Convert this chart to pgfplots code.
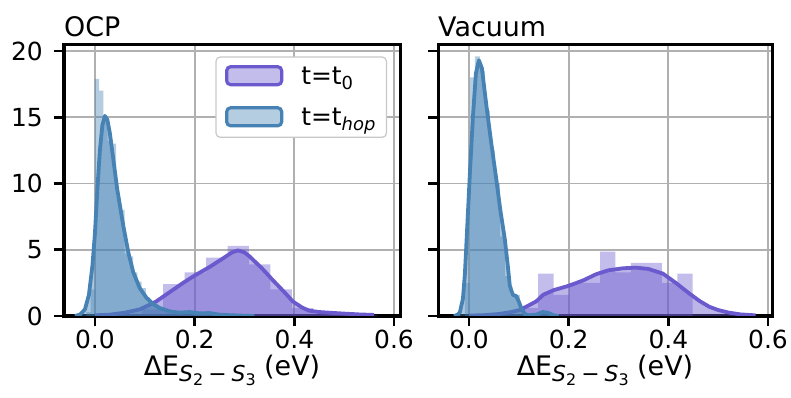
\documentclass[border=0pt]{standalone}
\usepackage{fontspec}
\setmainfont{DejaVu Sans}
\usepackage{pgfplots}
\pgfplotsset{compat=1.18}
\definecolor{sblue}{RGB}{70,130,180}
\definecolor{spurple}{RGB}{106,90,205}
\definecolor{gridc}{RGB}{176,176,176}
\newcommand{\dElabel}{ΔE\raisebox{-6.5bp}{\fontsize{22}{22}\selectfont\textit{S}\raisebox{-3.5bp}{\fontsize{16}{16}\selectfont 2}\hspace{5bp}−\hspace{5bp}\textit{S}\raisebox{-3.5bp}{\fontsize{16}{16}\selectfont 3}} (eV)}
\pgfplotsset{
  hist/.style={const plot, fill=#1, fill opacity=0.4, draw=none, forget plot},
  kdef/.style={fill=#1, fill opacity=0.45, draw=none, forget plot},
  kdel/.style={draw=#1, line width=3.8bp, line join=round, forget plot},
  myax/.style={
    scale only axis, width=336bp, height=271bp,
    xmin=-0.062, xmax=0.612, ymin=0, ymax=20.45,
    xtick={0,0.2,0.4,0.6}, ytick={0,5,10,15,20},
    xticklabels={0.0,0.2,0.4,0.6},
    xtick pos=lower, ytick pos=left,
    grid=major, major grid style={draw=gridc, line width=1.8bp},
    axis line style={line width=3bp, draw=black},
    tick align=outside, major tick length=10bp,
    major tick style={draw=black, line width=2.6bp},
    tick label style={font=\fontsize{25}{29}\selectfont, inner sep=0pt},
    /pgf/number format/assume math mode=true,
    xticklabel style={anchor=base, yshift=-22bp},
    yticklabel style={anchor=east, xshift=-11bp},
    xlabel={\dElabel},
    xlabel style={at={(axis description cs:0.5,0)}, anchor=base, yshift=-59bp, inner sep=0pt, font=\fontsize{27}{31}\selectfont},
    title style={at={(axis description cs:0,1)}, anchor=base west, yshift=3bp, inner sep=0pt, font=\fontsize{27}{31}\selectfont},
  }
}
\begin{document}
\begin{tikzpicture}
\path[use as bounding box] (0,0) rectangle (791bp,398bp);
% ---------------- OCP ----------------
\begin{axis}[myax, at={(64bp,82bp)}, title={OCP},
  legend style={at={(1,1)}, anchor=north east, xshift=-13bp, yshift=-11.5bp,
    draw=gridc!70, rounded corners=4bp, fill=white, line width=1.2bp,
    font=\fontsize{25}{29}\selectfont, inner xsep=9bp, inner ysep=8bp, row sep=18bp,
    nodes={inner sep=2bp},
    /tikz/every odd column/.append style={column sep=16bp}},
  legend cell align=left]
\addlegendimage{legend image code/.code={\draw[draw=spurple, line width=3.2bp, fill=spurple, fill opacity=0.4] (0bp,-8bp) rectangle (55bp,10bp);}}
\addlegendentry{t=t\raisebox{-4.5bp}{\fontsize{18}{18}\selectfont 0}}
\addlegendimage{legend image code/.code={\draw[draw=sblue, line width=3.2bp, fill=sblue, fill opacity=0.4] (0bp,-8bp) rectangle (55bp,10bp);}}
\addlegendentry{t=t\raisebox{-4.5bp}{\fontsize{18}{18}\selectfont\textit{hop}}}
% purple t0 histogram
\addplot[hist=spurple] coordinates {(0.008,0)(0.008,0.05)(0.051,0.15)(0.094,0.5)(0.137,2.4)(0.18,3.3)(0.223,4.4)(0.266,5.3)(0.309,3.9)(0.352,2.0)(0.395,0.6)(0.438,0.2)(0.481,0.1)(0.524,0.05)(0.567,0)} \closedcycle;
\addplot[kdef=spurple] coordinates {(0.0,0.05)(0.03,0.1)(0.06,0.25)(0.09,0.5)(0.11,0.85)(0.123,1.1)(0.15,1.8)(0.177,2.5)(0.2,3.05)(0.23,3.7)(0.255,4.3)(0.275,4.8)(0.287,4.95)(0.3,4.8)(0.31,4.5)(0.335,3.6)(0.357,2.7)(0.38,1.8)(0.397,1.1)(0.415,0.65)(0.43,0.4)(0.45,0.3)(0.47,0.25)(0.5,0.18)(0.53,0.12)(0.56,0.08)} \closedcycle;
\addplot[kdel=spurple] coordinates {(0.0,0.05)(0.03,0.1)(0.06,0.25)(0.09,0.5)(0.11,0.85)(0.123,1.1)(0.15,1.8)(0.177,2.5)(0.2,3.05)(0.23,3.7)(0.255,4.3)(0.275,4.8)(0.287,4.95)(0.3,4.8)(0.31,4.5)(0.335,3.6)(0.357,2.7)(0.38,1.8)(0.397,1.1)(0.415,0.65)(0.43,0.4)(0.45,0.3)(0.47,0.25)(0.5,0.18)(0.53,0.12)(0.56,0.08)};
% blue thop histogram
\addplot[hist=sblue] coordinates {(-0.017,0)(-0.017,0.3)(-0.0085,2.0)(0.0,17.9)(0.0085,17.0)(0.017,14.6)(0.0255,13.2)(0.034,13.0)(0.0425,9.0)(0.051,8.0)(0.0595,4.7)(0.068,4.5)(0.0765,3.3)(0.085,2.6)(0.0935,2.1)(0.102,1.4)(0.1105,1.0)(0.119,0.8)(0.1275,0.7)(0.136,0.5)(0.1445,0.4)(0.153,0.3)(0.1615,0.35)(0.17,0.3)(0.1785,0.25)(0.187,0.3)(0.1955,0.2)(0.204,0.2)(0.2125,0.25)(0.221,0.15)(0.2295,0.2)(0.238,0.1)(0.2465,0.15)(0.255,0.1)(0.2635,0.05)(0.272,0)} \closedcycle;
\addplot[kdef=sblue] coordinates {(-0.04,0)(-0.03,0.1)(-0.02,0.5)(-0.012,1.6)(-0.005,3.8)(0.0,6.2)(0.005,9.6)(0.01,12.5)(0.015,14.4)(0.02,15.1)(0.025,14.8)(0.03,13.8)(0.037,11.8)(0.045,9.5)(0.057,6.8)(0.067,4.8)(0.077,3.3)(0.09,2.1)(0.103,1.4)(0.115,0.95)(0.13,0.6)(0.15,0.35)(0.17,0.25)(0.19,0.3)(0.21,0.2)(0.23,0.22)(0.25,0.1)(0.27,0.06)(0.3,0.02)(0.32,0)} \closedcycle;
\addplot[kdel=sblue] coordinates {(-0.04,0)(-0.03,0.1)(-0.02,0.5)(-0.012,1.6)(-0.005,3.8)(0.0,6.2)(0.005,9.6)(0.01,12.5)(0.015,14.4)(0.02,15.1)(0.025,14.8)(0.03,13.8)(0.037,11.8)(0.045,9.5)(0.057,6.8)(0.067,4.8)(0.077,3.3)(0.09,2.1)(0.103,1.4)(0.115,0.95)(0.13,0.6)(0.15,0.35)(0.17,0.25)(0.19,0.3)(0.21,0.2)(0.23,0.22)(0.25,0.1)(0.27,0.06)(0.3,0.02)(0.32,0)};
\end{axis}
% ---------------- Vacuum ----------------
\begin{axis}[myax, at={(438bp,82bp)}, width=334bp, xmax=0.608, title={Vacuum}, yticklabels={}]
\addplot[hist=spurple] coordinates {(0.108,0)(0.108,0.6)(0.139,3.2)(0.170,1.6)(0.201,2.5)(0.232,2.5)(0.263,4.85)(0.294,3.3)(0.325,4.0)(0.356,4.0)(0.387,2.5)(0.418,3.2)(0.449,0)} \closedcycle;
\addplot[kdef=spurple] coordinates {(0.0,0.03)(0.03,0.06)(0.06,0.15)(0.085,0.3)(0.102,0.45)(0.12,0.8)(0.135,1.1)(0.149,1.6)(0.17,1.95)(0.202,2.3)(0.23,2.7)(0.255,3.15)(0.28,3.45)(0.309,3.6)(0.335,3.65)(0.36,3.55)(0.389,3.2)(0.415,2.5)(0.442,1.7)(0.462,1.15)(0.482,0.7)(0.5,0.45)(0.522,0.25)(0.545,0.12)(0.575,0.05)} \closedcycle;
\addplot[kdel=spurple] coordinates {(0.0,0.03)(0.03,0.06)(0.06,0.15)(0.085,0.3)(0.102,0.45)(0.12,0.8)(0.135,1.1)(0.149,1.6)(0.17,1.95)(0.202,2.3)(0.23,2.7)(0.255,3.15)(0.28,3.45)(0.309,3.6)(0.335,3.65)(0.36,3.55)(0.389,3.2)(0.415,2.5)(0.442,1.7)(0.462,1.15)(0.482,0.7)(0.5,0.45)(0.522,0.25)(0.545,0.12)(0.575,0.05)};
\addplot[hist=sblue] coordinates {(-0.008,0)(-0.008,2.5)(0.002,18.0)(0.012,19.6)(0.022,18.5)(0.032,15.5)(0.042,12.5)(0.052,10.0)(0.062,6.0)(0.072,3.0)(0.082,1.6)(0.092,1.6)(0.102,0.4)(0.112,0.1)(0.122,0.0)(0.132,0.2)(0.142,0.3)(0.152,0.1)(0.162,0)} \closedcycle;
\addplot[kdef=sblue] coordinates {(-0.03,0)(-0.022,0.1)(-0.018,0.3)(-0.012,1.3)(-0.008,3.2)(-0.003,7)(0.002,10.8)(0.008,15)(0.014,18.3)(0.02,19.3)(0.026,18.7)(0.035,15.9)(0.045,13)(0.055,10.3)(0.063,8)(0.072,5.8)(0.078,3.8)(0.082,2.3)(0.088,1.6)(0.095,1.5)(0.1,1.1)(0.105,0.6)(0.112,0.15)(0.12,0.05)(0.135,0.1)(0.148,0.3)(0.158,0.25)(0.17,0.05)(0.18,0)} \closedcycle;
\addplot[kdel=sblue] coordinates {(-0.03,0)(-0.022,0.1)(-0.018,0.3)(-0.012,1.3)(-0.008,3.2)(-0.003,7)(0.002,10.8)(0.008,15)(0.014,18.3)(0.02,19.3)(0.026,18.7)(0.035,15.9)(0.045,13)(0.055,10.3)(0.063,8)(0.072,5.8)(0.078,3.8)(0.082,2.3)(0.088,1.6)(0.095,1.5)(0.1,1.1)(0.105,0.6)(0.112,0.15)(0.12,0.05)(0.135,0.1)(0.148,0.3)(0.158,0.25)(0.17,0.05)(0.18,0)};
\end{axis}
\end{tikzpicture}
\end{document}
